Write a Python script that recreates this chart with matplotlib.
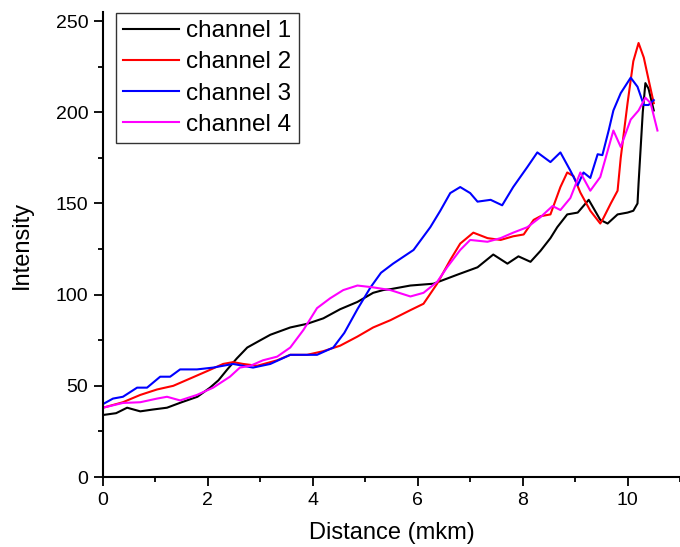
import matplotlib
matplotlib.use('Agg')
import matplotlib.pyplot as plt
from matplotlib.ticker import MultipleLocator

plt.rcParams['font.family'] = ['Liberation Sans', 'DejaVu Sans']

# channel 1 (black)
x1 = [0, 0.25, 0.46, 0.71, 0.95, 1.22, 1.5, 1.8, 2.04, 2.2, 2.37, 2.55, 2.75, 3.0, 3.19, 3.57, 3.89,
      4.2, 4.52, 4.85, 5.15, 5.34, 5.48, 5.86, 6.30, 6.76, 7.14, 7.44, 7.71, 7.92, 8.15, 8.34, 8.53,
      8.66, 8.85, 9.05, 9.26, 9.48, 9.62, 9.81, 10.0, 10.11, 10.19, 10.21, 10.29, 10.34, 10.40, 10.50]
y1 = [34, 35, 38, 36, 37, 38, 41, 44, 49, 53, 59, 65, 71, 75, 78, 82, 84,
      87, 92, 96, 101, 102.5, 103, 105, 106, 111, 115, 122, 117, 121, 118, 124, 131,
      137, 144, 145, 152, 141, 139, 144, 145, 146, 150, 161, 200, 216, 213, 201]

# channel 2 (red)
x2 = [0, 0.38, 0.71, 1.03, 1.34, 1.66, 1.98, 2.29, 2.48, 2.67, 2.94, 3.32, 3.57, 3.89, 4.2, 4.52,
      4.85, 5.15, 5.48, 5.86, 6.11, 6.37, 6.62, 6.81, 7.06, 7.33, 7.58, 7.82, 8.02, 8.21, 8.34,
      8.53, 8.72, 8.85, 8.97, 9.10, 9.29, 9.48, 9.54, 9.68, 9.81, 9.87, 10.0, 10.11, 10.21, 10.31,
      10.40, 10.50]
y2 = [38, 41, 45, 48, 50, 54, 58, 62, 63, 62, 61, 64, 67, 67, 69, 72,
      77, 82, 86, 91.5, 95, 106, 119, 128, 134, 131, 130, 132, 133, 141, 143,
      144, 159, 167, 165, 156, 146, 139, 142, 150, 157, 175, 205, 228, 238, 230,
      218, 205]

# channel 3 (blue)
x3 = [0, 0.19, 0.38, 0.65, 0.84, 1.09, 1.28, 1.47, 1.79, 2.1, 2.48, 2.86, 3.19, 3.57, 4.08, 4.39,
      4.6, 4.85, 5.1, 5.3, 5.53, 5.92, 6.24, 6.43, 6.62, 6.81, 7.0, 7.14, 7.39, 7.61, 7.82, 8.09,
      8.28, 8.53, 8.72, 8.91, 9.05, 9.16, 9.29, 9.43, 9.52, 9.64, 9.73, 9.87, 10.06, 10.19, 10.31,
      10.40, 10.50]
y3 = [40, 43, 44, 49, 49, 55, 55, 59, 59, 60, 62, 60, 62, 67, 67, 71,
      79, 92, 104, 112, 117, 124.5, 137, 146, 155.7, 159, 155.7, 151, 152, 149, 159, 170,
      178, 172.7, 178, 168, 160, 167, 164, 177, 176.5, 190, 201, 210.5, 219, 214, 204,
      204, 206.7]

# channel 4 (magenta)
x4 = [0, 0.38, 0.71, 1.03, 1.22, 1.47, 1.79, 2.1, 2.42, 2.61, 2.81, 3.05, 3.32, 3.57, 3.82, 4.08,
      4.33, 4.58, 4.85, 5.15, 5.48, 5.86, 6.11, 6.37, 6.56, 6.81, 7.0, 7.33, 7.58, 7.82, 8.09,
      8.34, 8.57, 8.72, 8.91, 9.10, 9.29, 9.48, 9.73, 9.87, 10.06, 10.21, 10.34, 10.44, 10.57]
y4 = [38, 40.6, 41, 43, 44, 42, 45, 49, 55, 60, 61, 64, 66, 71, 80.6, 92.6,
      98, 102.5, 105, 104, 102.5, 99, 101, 107, 115, 124.5, 130, 129, 131, 134, 137,
      142.5, 148.6, 146.4, 153, 167, 157, 164.5, 190, 181, 196, 201, 208, 205, 190]

labels = ['channel 1', 'channel 2', 'channel 3', 'channel 4']
colors = ['black', '#ff0000', '#0000ff', '#ff00ff']

fig = plt.figure(figsize=(6.8, 5.47), dpi=100)
ax = fig.add_axes([103/680, 1 - 477/547, 577/680, 465/547])

for xs, ys, lab, c in zip([x1, x2, x3, x4], [y1, y2, y3, y4], labels, colors):
    ax.plot(xs, ys, '-', color=c, lw=1.5, label=lab)

ax.set_xlim(0, 11)
ax.set_ylim(0, 255)
ax.xaxis.set_major_locator(MultipleLocator(2))
ax.xaxis.set_minor_locator(MultipleLocator(1))
ax.yaxis.set_major_locator(MultipleLocator(50))
ax.yaxis.set_minor_locator(MultipleLocator(25))
ax.spines['top'].set_visible(False)
ax.spines['right'].set_visible(False)
ax.spines['left'].set_linewidth(1.5)
ax.spines['bottom'].set_linewidth(1.5)
ax.tick_params(which='major', direction='out', length=6.5, width=1.3, labelsize=14, pad=4)
ax.tick_params(which='minor', direction='out', length=3.6, width=1.3)

ax.set_xlabel('Distance (mkm)', fontsize=17)
ax.set_ylabel('Intensity', fontsize=17)
ax.xaxis.set_label_coords(0.5, -0.097)
ax.yaxis.set_label_coords(-0.122, 0.5)

leg = ax.legend(loc='upper left', bbox_to_anchor=(0.0225, 0.998), borderaxespad=0,
                fontsize=17.5, fancybox=False, edgecolor='#333333', framealpha=1,
                handlelength=2.3, handletextpad=0.3, labelspacing=0.38, borderpad=0.3)
leg.get_frame().set_linewidth(1.0)

plt.savefig('out.png', dpi=100)
